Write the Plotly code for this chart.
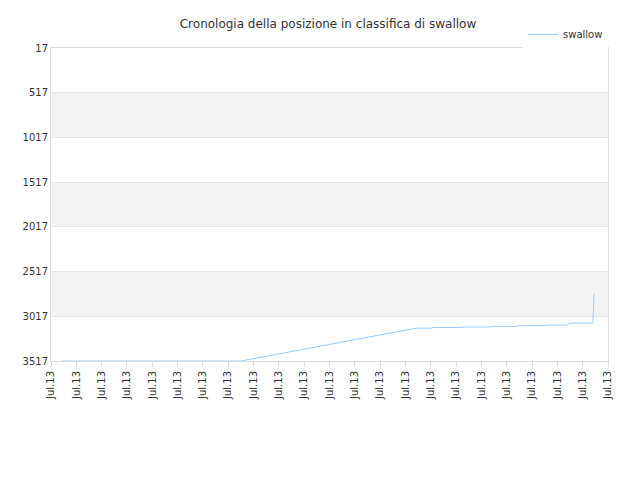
import plotly.graph_objects as go

# days from start of the period (x axis shows 23 "Jul.13" ticks)
giorni = [0.4, 7.5, 14.3, 14.5, 15.0, 15.1, 16.2, 16.3, 17.3, 17.4, 18.4, 18.5, 19.5, 19.6, 20.4, 20.5, 21.4, 21.42, 21.45]
posizione = [3517, 3517, 3156, 3150, 3150, 3143, 3143, 3137, 3137, 3130, 3130, 3122, 3122, 3115, 3115, 3093, 3093, 2950, 2770]
tick_pos = list(range(23))
tick_txt = ["Jul.13"] * 23

fig = go.Figure(go.Scatter(x=giorni, y=posizione, mode="lines", name="swallow",
                           line=dict(color="#99ccff", width=1)))

bands = [(517, 1017), (1517, 2017), (2517, 3017)]
for a, b in bands:
    fig.add_hrect(y0=a, y1=b, fillcolor="#f2f2f2", line_width=0, layer="below")

fig.update_layout(
    width=640, height=480,
    margin=dict(l=43, r=40, t=33, b=127),
    plot_bgcolor="white", paper_bgcolor="white",
    font=dict(family="DejaVu Sans", size=10, color="#333"),
    title=dict(text="Cronologia della posizione in classifica di swallow", x=0.5, y=0.975,
               font=dict(size=12, color="#333")),
    showlegend=True,
    legend=dict(x=1.0, y=1.09, xanchor="right", yanchor="top", font=dict(size=10)),
)
fig.update_xaxes(range=[0, 22], tickvals=tick_pos, ticktext=tick_txt, tickangle=-90,
                 showgrid=False, showline=True, linecolor="#ddd", mirror=True, ticks="outside",
                 tickcolor="#ddd", tickfont=dict(size=10))
fig.update_yaxes(range=[3517, 17], tickvals=[17, 517, 1017, 1517, 2017, 2517, 3017, 3517],
                 showgrid=True, gridcolor="#e6e6e6", showline=True, linecolor="#ddd", mirror=True,
                 zeroline=False, tickfont=dict(size=10))

fig.write_html("out.html")
